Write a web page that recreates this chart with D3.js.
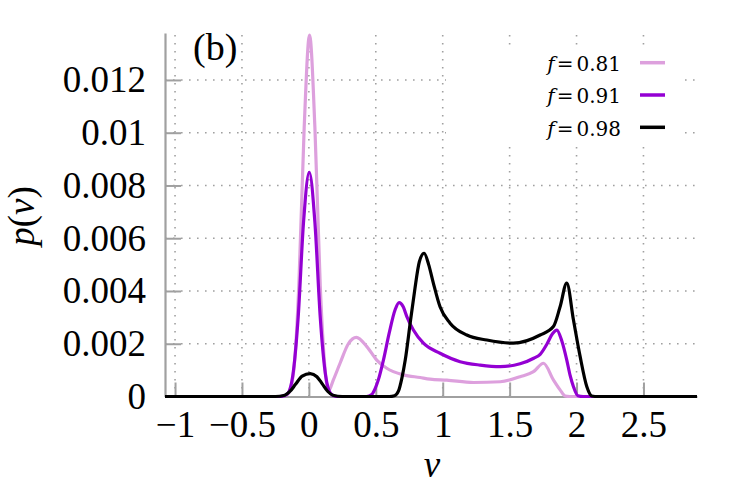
<!DOCTYPE html>
<html><head><meta charset="utf-8">
<script src="https://cdn.jsdelivr.net/npm/d3@7"></script>
<style>body{margin:0;background:#fff}svg{display:block}</style>
</head><body>
<svg id="chart" width="747" height="498"></svg>
<script>
// ---- data ----
const xTicks = [-1, -0.5, 0, 0.5, 1, 1.5, 2, 2.5];
const xTickLabels = ["\u22121", "\u22120.5", "0", "0.5", "1", "1.5", "2", "2.5"];
const yTicks = [0, 0.002, 0.004, 0.006, 0.008, 0.01, 0.012];
const yTickLabels = ["0", "0.002", "0.004", "0.006", "0.008", "0.01", "0.012"];
const seriesNames = ["0.81", "0.91", "0.98"];

const vF081 = [-1.075, -0.25, -0.2, -0.155, -0.115, -0.075, -0.035, 0.005, 0.045, 0.085, 0.12, 0.146, 0.183, 0.233, 0.295, 0.355, 0.433, 0.507, 0.582, 0.706, 0.831, 0.906, 1.03, 1.23, 1.43, 1.578, 1.678, 1.753, 1.827, 1.877, 1.915, 1.95, 2.9];
const pF081 = [0, 0, 0.00002, 0.0001, 0.0009, 0.0042, 0.0102, 0.0137, 0.0102, 0.0042, 0.0011, 0.0002, 0.00063, 0.00126, 0.002, 0.00224, 0.00189, 0.00138, 0.00107, 0.00082, 0.00072, 0.00066, 0.00062, 0.00053, 0.00056, 0.00075, 0.00094, 0.00126, 0.00063, 0.00025, 0.00002, 0, 0];

const vF091 = [-1.075, -0.2, -0.16, -0.12, -0.08, -0.04, 0.003, 0.045, 0.085, 0.125, 0.165, 0.2, 0.43, 0.47, 0.495, 0.519, 0.557, 0.6, 0.645, 0.674, 0.705, 0.732, 0.781, 0.856, 0.98, 1.13, 1.28, 1.429, 1.578, 1.68, 1.728, 1.78, 1.82, 1.853, 1.89, 1.927, 1.952, 1.977, 2.01, 2.05, 2.9];
const pF091 = [0, 0, 0.0001, 0.0008, 0.003, 0.0066, 0.0085, 0.0066, 0.003, 0.0008, 0.0001, 0, 0, 0.00008, 0.0003, 0.00063, 0.00138, 0.0024, 0.0033, 0.00356, 0.0034, 0.00303, 0.00252, 0.00202, 0.00164, 0.00132, 0.00119, 0.00113, 0.00124, 0.00145, 0.0016, 0.002, 0.00238, 0.00252, 0.0021, 0.00138, 0.0008, 0.00037, 0.00003, 0, 0];

const vF098 = [-1.075, -0.25, -0.18, -0.14, -0.1, -0.05, 0.01, 0.06, 0.1, 0.14, 0.18, 0.25, 0.6, 0.64, 0.669, 0.695, 0.72, 0.76, 0.79, 0.825, 0.861, 0.895, 0.93, 0.98, 1.055, 1.18, 1.33, 1.528, 1.728, 1.827, 1.877, 1.927, 1.977, 2.027, 2.077, 2.114, 2.16, 2.9];
const pF098 = [0, 0, 0.00005, 0.0002, 0.00046, 0.00077, 0.00087, 0.00075, 0.00048, 0.0002, 0.00005, 0, 0, 0.00003, 0.0002, 0.0007, 0.00138, 0.0029, 0.004, 0.0051, 0.00543, 0.005, 0.0043, 0.0034, 0.00278, 0.00233, 0.00214, 0.00202, 0.00233, 0.00265, 0.0034, 0.0043, 0.0029, 0.00151, 0.00037, 0.00002, 0, 0];

const colors = ["#dda0dd", "#9400d3", "#000000"];

// ---- chart ----
const svg = d3.select("#chart");
const FONT = "'Liberation Serif', 'Times New Roman', serif";
const LEGFONT = "'DejaVu Serif', serif";
const x = d3.scaleLinear().domain([-1.075, 2.9]).range([165, 697]);
const y = d3.scaleLinear().domain([0, 0.01378]).range([396.5, 33]);

const gridColor = "#a0a0a0";
// grid
const grid = svg.append("g");
grid.selectAll("line.vx").data(xTicks).join("line")
  .attr("x1", d => x(d)).attr("x2", d => x(d))
  .attr("y1", y(0)).attr("y2", y.range()[1])
  .attr("stroke", gridColor).attr("stroke-width", 1.6).attr("stroke-dasharray", "1.6,6.4");
grid.selectAll("line.hy").data(yTicks.filter(d => d > 0)).join("line")
  .attr("y1", d => y(d)).attr("y2", d => y(d))
  .attr("x1", x.range()[0]).attr("x2", x.range()[1])
  .attr("stroke", gridColor).attr("stroke-width", 1.6).attr("stroke-dasharray", "1.6,6.4");

// legend background
svg.append("rect").attr("x", 446).attr("y", 47).attr("width", 234).attr("height", 98).attr("fill", "#fff");

// axes
const xAxis = d3.axisBottom(x).tickValues(xTicks).tickFormat((d, i) => xTickLabels[i])
  .tickSizeInner(-14).tickSizeOuter(0).tickPadding(14);
const yAxis = d3.axisLeft(y).tickValues(yTicks).tickFormat((d, i) => yTickLabels[i])
  .tickSizeInner(-16).tickSizeOuter(0).tickPadding(19);

const gx = svg.append("g").attr("transform", `translate(0,${y(0)})`).call(xAxis);
const gy = svg.append("g").attr("transform", `translate(${x.range()[0]},0)`).call(yAxis);
[gx, gy].forEach(g => {
  g.select(".domain").attr("stroke", gridColor).attr("stroke-width", 2.2);
  g.selectAll(".tick line").attr("stroke", gridColor).attr("stroke-width", 2);
  g.selectAll(".tick text").attr("fill", "#000").style("font-family", FONT).style("font-size", "37px");
});
gy.selectAll(".tick line").filter(d => d === 0).remove();

// curves
const line = d3.line().x(d => x(d[0])).y(d => y(d[1])).curve(d3.curveMonotoneX);
const series = [[vF081, pF081], [vF091, pF091], [vF098, pF098]];
series.forEach((s, i) => {
  const pts = s[0].map((v, j) => [v, s[1][j]]);
  svg.append("path").datum(pts).attr("d", line)
    .attr("fill", "none").attr("stroke", colors[i]).attr("stroke-width", 3.2)
    .attr("stroke-linejoin", "round");
});

// legend
const leg = svg.append("g");
seriesNames.forEach((n, i) => {
  const by = 71 + i * 32.3;
  const t = leg.append("text").attr("x", 621).attr("y", by).attr("text-anchor", "end")
    .style("font-family", LEGFONT).style("font-size", "20px");
  t.append("tspan").style("font-style", "italic").text("f");
  t.append("tspan").attr("dx", 2).text("=");
  t.append("tspan").attr("dx", 3).text(n);
  leg.append("line").attr("x1", 640).attr("x2", 665).attr("y1", by - 8.3).attr("y2", by - 8.3)
    .attr("stroke", colors[i]).attr("stroke-width", 3.5);
});

// labels
svg.append("text").attr("x", 193).attr("y", 60).style("font-family", FONT).style("font-size", "38px").text("(b)");
svg.append("text").attr("transform", "translate(34,216) rotate(-90)").attr("text-anchor", "middle")
  .style("font-family", FONT).style("font-size", "37px")
  .call(t => { t.append("tspan").style("font-style", "italic").text("p"); t.append("tspan").text("("); t.append("tspan").style("font-style", "italic").text("v"); t.append("tspan").text(")"); });
svg.append("text").attr("x", 432).attr("y", 477).attr("text-anchor", "middle")
  .style("font-family", FONT).style("font-size", "37px").style("font-style", "italic").text("v");
</script>
</body></html>
